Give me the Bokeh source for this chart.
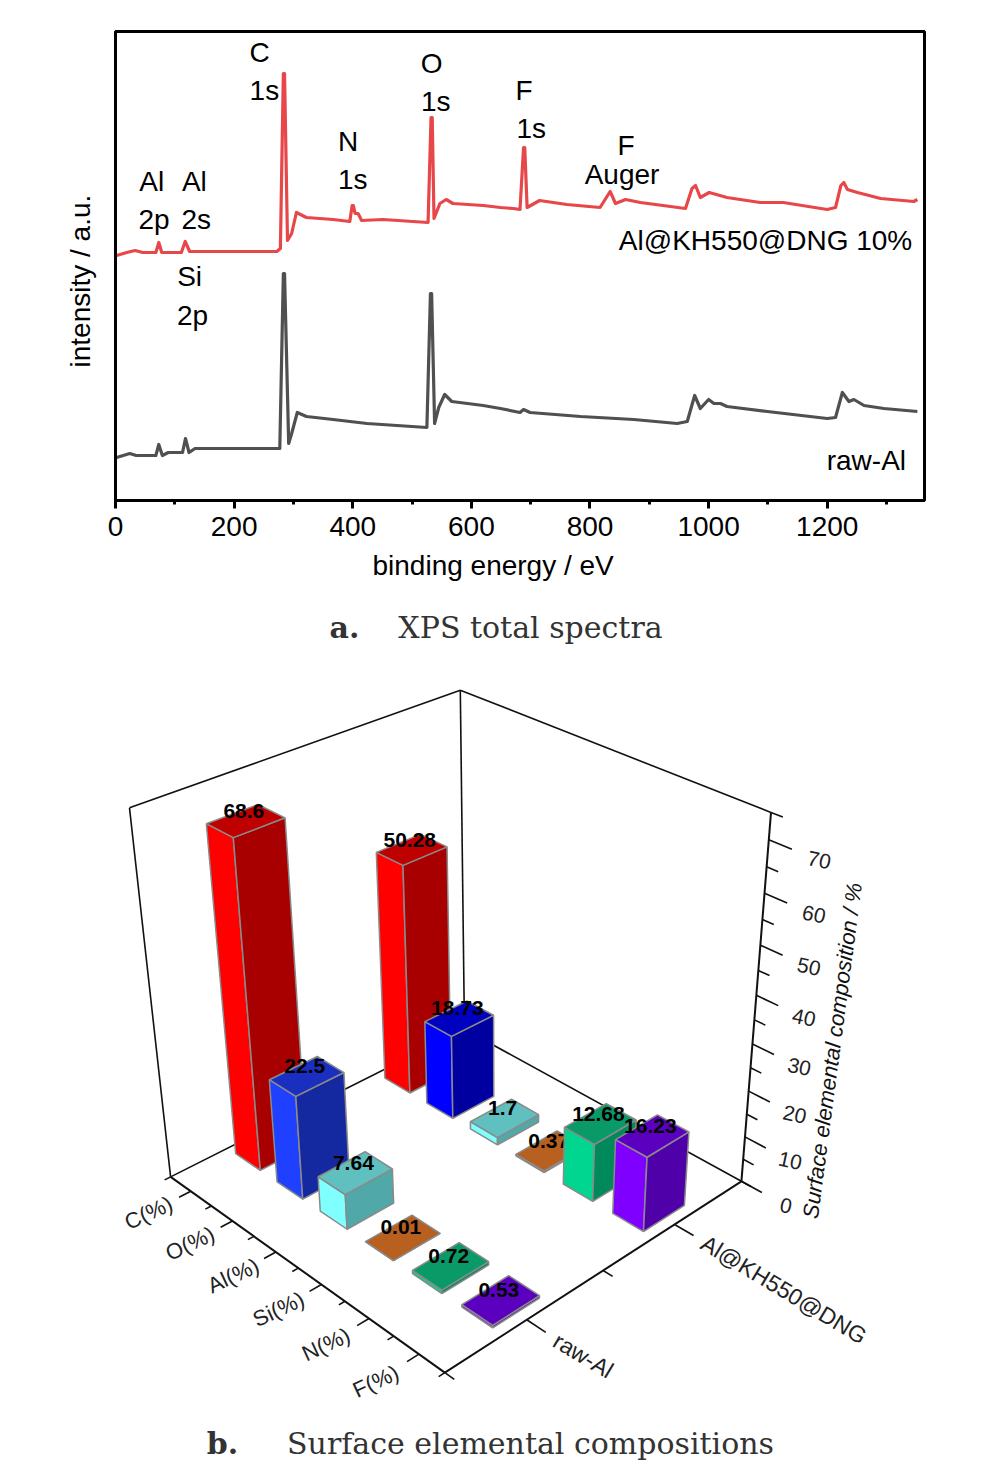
import numpy as np
from bokeh.plotting import figure
from bokeh.layouts import column
from bokeh.models import Range1d, FixedTicker, Title
from bokeh.core.properties import value
from bokeh.embed import file_html
from bokeh.resources import INLINE

# ---------- panel a data ----------
energy_coated = [2,19,33,46,68,73,78,111,117.5,125,198,272,278,283,285,290,297,305,322,367,395,399,401,404,409,415,451,527,532,534,537,547,557.5,569,620,649,671,682,688,690,694,715,761,817,834,843,860,885,961,972,978,986,1001,1031,1087,1126,1200,1214,1223,1228,1234,1251,1290,1346,1352]
intensity_coated = [245,248,250,248,248,258,248,248,259,249,249,249,252,427,427,260,267,288,283,281,279,295,295,287,287,280,281,278,383,383,282,297,301,297,295,293,292,291,353,353,293,300,296,293,309,297,301,298,292,312,315,303,308,303,298,298,291,293,315,318,311,308,302,299,301]
energy_raw = [2,24,35,68,73,79,89,113,118,124,134,198,277,283,285,292,297,306.5,322,367,424,525,531,533,538,545,555,567,620,649,682,688,699,784,874,947,964,976.5,986,1000,1009,1020,1031,1099,1200,1214,1225.5,1236.6,1245,1262,1295.5,1352]
intensity_raw = [43,47,45,45,56,45,48,48,62,48,52,52,52,227,227,57,67,88,84,81,77,73,207,207,77,93,106,99,95,92,88,91,88,84,81,77,79,105,92,101,97,97,94,89,82,83,108,99,101,95,92,89]

peak_texts = ["C","1s","Al","2p","Al","2s","Si","2p","N","1s","O","1s","F","1s","F","Auger","Al@KH550@DNG 10%","raw-Al"]
peak_text_x = [243,251,61,65,133,136,125,130,392,400,533,540,689,701,861,854,1096,1266]
peak_text_y = [448,410,319,281,319,281,224,185,359,321,437,399,410,372,355,326,260,40]

x_ticks_major = [0,200,400,600,800,1000,1200]
x_ticks_minor = [100,300,500,700,900,1100,1300]

# ---------- panel b data ----------
elements = ["C(%)","O(%)","Al(%)","Si(%)","N(%)","F(%)"]
series_names = ["raw-Al","Al@KH550@DNG"]
values_raw = [68.6,22.5,7.64,0.01,0.72,0.53]
values_coated = [50.28,18.73,1.7,0.37,12.68,16.23]
face_raw = ["#ff0000","#2040ff","#80ffff","#d87a28","#00d68f","#8000ff"]
side_raw = ["#a80000","#1428a0","#50a8a8","#8a5018","#008a5c","#5000a8"]
top_raw  = ["#bf0000","#1a2fc0","#60c0c0","#b86020","#0a9a68","#5c00c0"]
face_coated = ["#ff0000","#0000ff","#80ffff","#d87a28","#00d68f","#8000ff"]
side_coated = ["#a80000","#0000a0","#50a8a8","#8a5018","#008a5c","#5000a8"]
top_coated  = ["#bf0000","#0000c0","#60c0c0","#b86020","#0a9a68","#5c00c0"]
z_ticks_major = [0,10,20,30,40,50,60,70]
z_ticks_minor = [5,15,25,35,45,55,65,75]

SANS = "Liberation Sans"
SERIF = "DejaVu Serif"
BIG = "28px"

# ---------- panel a ----------
p1 = figure(width=986, height=600, output_backend="svg", toolbar_location=None,
            x_range=Range1d(0,1364), y_range=Range1d(0,469),
            min_border_left=115, min_border_right=62, min_border_top=31, min_border_bottom=100)
p1.grid.visible = False
p1.outline_line_color = "black"
p1.outline_line_width = 3
p1.xaxis.ticker = FixedTicker(ticks=x_ticks_major, minor_ticks=x_ticks_minor)
p1.xaxis.axis_line_width = 3
p1.xaxis.major_tick_line_width = 3
p1.xaxis.minor_tick_line_width = 3
p1.xaxis.major_tick_in = 0
p1.xaxis.minor_tick_in = 0
p1.xaxis.major_tick_out = 8
p1.xaxis.minor_tick_out = 4
p1.xaxis.major_label_text_font = SANS
p1.xaxis.major_label_text_font_size = BIG
p1.xaxis.major_label_text_color = "black"
p1.xaxis.major_label_standoff = 8
p1.yaxis.ticker = FixedTicker(ticks=[])
p1.yaxis.axis_line_width = 3
p1.yaxis.major_label_text_font_size = "0px"
p1.line(energy_coated, intensity_coated, line_color="#e8474a", line_width=3.2, line_join="round")
p1.line(energy_raw, intensity_raw, line_color="#505050", line_width=3.2, line_join="round")
p1.text(peak_text_x, peak_text_y, text=peak_texts, text_font=value(SANS), text_font_size=BIG,
        text_align="center", text_baseline="middle", text_color="black")
# axis titles sit off-centre in the reference
p1.add_layout(Title(text="binding energy / eV", align="left", offset=257, standoff=19,
                    text_font=SANS, text_font_size=BIG, text_font_style="normal", text_color="black"), "below")
p1.add_layout(Title(text="intensity / a.u.", align="left", offset=133, standoff=39,
                    text_font=SANS, text_font_size=BIG, text_font_style="normal", text_color="black"), "left")

# ---------- panel b: a projective camera fitted to the visible box corners ----------
box3d = np.array([[0,0,0],[1,0,0],[1,1,0],[0,1,0],[0,1,1],[1,1,1],[0,0,1]], float)
box2d = np.array([[168,1175],[445,1373],[739,1180],[467,1030],[457,689],[772,812],[130.7,808]], float)
Z_TOP = 75.0
rows = []; rhs = []
for (a,b,c),(sx,sy) in zip(box3d, box2d):
    rows.append([a,b,c,1,0,0,0,0,-sx*a,-sx*b,-sx*c]); rhs.append(sx)
    rows.append([0,0,0,0,a,b,c,1,-sy*a,-sy*b,-sy*c]); rhs.append(sy)
cam = np.append(np.linalg.lstsq(np.array(rows), np.array(rhs), rcond=None)[0], 1).reshape(3,4)

def proj(u, v, z):
    h = cam @ np.array([u, v, z/Z_TOP, 1.0])
    return h[0]/h[2], h[1]/h[2]

p2 = figure(width=986, height=873, output_backend="svg", toolbar_location=None,
            x_range=Range1d(115,924), y_range=Range1d(1473,600),
            min_border_left=115, min_border_right=62, min_border_top=0, min_border_bottom=0,
            outline_line_color=None)
p2.axis.visible = False
p2.grid.visible = False

def seg(a, b, width=1.5, color="black"):
    x0,y0 = proj(*a); x1,y1 = proj(*b)
    p2.line([x0,x1],[y0,y1], line_color=color, line_width=width)

# walls and floor
for a,b in [((0,0,0),(0,0,Z_TOP)),((0,0,Z_TOP),(0,1,Z_TOP)),((0,1,Z_TOP),(1,1,Z_TOP)),
            ((0,1,0),(0,1,Z_TOP)),((0,0,0),(0,1,0)),((0,1,0),(1,1,0))]:
    seg(a,b,1.6,"#111111")
for a,b in [((0,0,0),(1,0,0)),((1,0,0),(1,1,0)),((1,1,0),(1,1,Z_TOP))]:
    seg(a,b,2,"#111111")

n = len(elements)
# element axis ticks and labels
for i,name in enumerate(elements):
    u = (i+0.5)/n
    seg((u,0,0),(u,-0.035,0),1.6,"#111111")
    x,y = proj(u,-0.125,0)
    p2.text([x],[y],text=[name],text_font=value(SANS),text_font_size="22px",angle=25,angle_units="deg",
            text_align="center",text_baseline="middle",text_color="#222222")
for i in range(n+1):
    seg((i/n,0,0),(i/n,-0.018,0),1.6,"#111111")
# series axis ticks and labels
for i,name in enumerate(series_names):
    v = (i+0.5)/2
    seg((1,v,0),(1.06,v,0),1.6,"#111111")
    x,y = proj(1.09,v,0)
    p2.text([x],[y],text=[name],text_font=value(SANS),text_font_size="23px",angle=-31,angle_units="deg",
            text_align="left",text_baseline="middle",text_color="#222222")
for v in [0,0.5,1]:
    seg((1,v,0),(1.03,v,0),1.6,"#111111")
# value axis ticks and labels
for z in z_ticks_major:
    seg((1,1,z),(1.065,1,z),1.6,"#111111")
    x,y = proj(1.14,1,z)
    p2.text([x],[y],text=[str(z)],text_font=value(SANS),text_font_size="21px",angle=-12,angle_units="deg",
            text_align="center",text_baseline="middle",text_color="#222222")
for z in z_ticks_minor:
    seg((1,1,z),(1.033,1,z),1.6,"#111111")
p2.text([832],[1050],text=["Surface elemental composition / %"],text_font=value(SANS),text_font_size="22px",
        text_font_style="italic",angle=82.5,angle_units="deg",text_align="center",text_baseline="middle",text_color="#111111")

# bars, back row first so nearer ones overlap
DU, DV = 0.10, 0.148
def bar(u, v, val, face, side, top):
    u0,u1 = u-DU/2,u+DU/2
    v0,v1 = v-DV/2,v+DV/2
    quads = [([(u0,v0,0),(u1,v0,0),(u1,v0,val),(u0,v0,val)],face),
             ([(u1,v0,0),(u1,v1,0),(u1,v1,val),(u1,v0,val)],side),
             ([(u0,v0,val),(u1,v0,val),(u1,v1,val),(u0,v1,val)],top)]
    for pts,col in quads:
        xy = [proj(*q) for q in pts]
        p2.patch([q[0] for q in xy],[q[1] for q in xy],fill_color=col,line_color="#8a8a8a",line_width=1.5)
    x,y = proj(u,v,val)
    p2.text([x],[y],text=[str(val)],text_font=value(SANS),text_font_size="21px",text_font_style="bold",
            text_align="center",text_baseline="middle",x_offset=-2,y_offset=-10,text_color="black")

for i in range(n):
    bar((i+0.5)/n,0.75,values_coated[i],face_coated[i],side_coated[i],top_coated[i])
for i in range(n):
    bar((i+0.5)/n,0.25,values_raw[i],face_raw[i],side_raw[i],top_raw[i])

# captions
CAP = "#333333"
CAPSIZE = "30px"
p2.text([344,222],[627,1443],text=["a.","b."],text_font=value(SERIF),text_font_size=CAPSIZE,text_font_style="bold",
        text_align="center",text_baseline="middle",text_color=CAP)
p2.text([530,530],[627,1443],text=["XPS total spectra","Surface elemental compositions"],text_font=value(SERIF),text_font_size=CAPSIZE,
        text_align="center",text_baseline="middle",text_color=CAP)

open("out.html","w").write(file_html(column(p1,p2), INLINE))
